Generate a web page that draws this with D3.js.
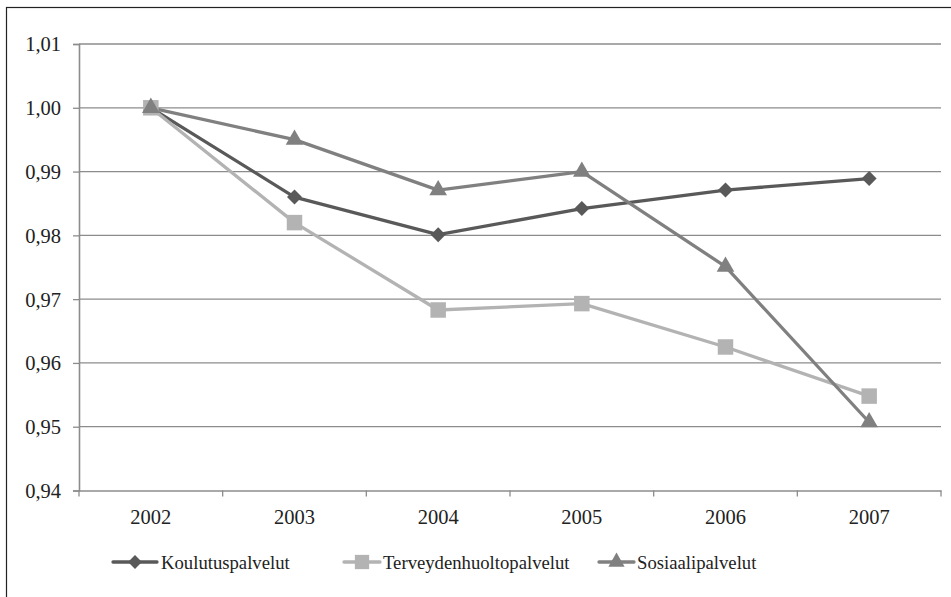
<!DOCTYPE html>
<html><head><meta charset="utf-8">
<script src="https://cdn.jsdelivr.net/npm/d3@7"></script>
<style>body{margin:0;background:#fff}svg{display:block}</style>
</head><body>
<svg id="c" width="951" height="597" font-family="Liberation Serif, serif"></svg>
<script>
const years = ["2002","2003","2004","2005","2006","2007"];
const koulutus = [1.000, 0.986, 0.9801, 0.9842, 0.9871, 0.9889];
const terveys  = [1.000, 0.982, 0.9683, 0.9693, 0.9625, 0.9548];
const sosiaali = [1.000, 0.995, 0.9871, 0.990, 0.9751, 0.9507];
const yTicks = [0.94,0.95,0.96,0.97,0.98,0.99,1.00,1.01];
const seriesNames = ["Koulutuspalvelut","Terveydenhuoltopalvelut","Sosiaalipalvelut"];

(function(){
const diamond = {draw(ctx, size){ const r = Math.sqrt(size/2); ctx.moveTo(0,-r); ctx.lineTo(r,0); ctx.lineTo(0,r); ctx.lineTo(-r,0); ctx.closePath(); }};
const series = [
  {name: seriesNames[0], values: koulutus, color: "#595959", symbol: diamond, size: 112},
  {name: seriesNames[1], values: terveys, color: "#b3b3b3", symbol: d3.symbolSquare, size: 240},
  {name: seriesNames[2], values: sosiaali, color: "#808080", symbol: d3.symbolTriangle, size: 135}
];

const svg = d3.select("#c");
const font = "Liberation Serif, serif";
const mLeft = 79, mRight = 941, mTop = 44, mBottom = 490.5;

svg.append("rect").attr("x",6.5).attr("y",7.5).attr("width",960).attr("height",620)
  .attr("fill","none").attr("stroke","#222").attr("stroke-width",1.2);

const x = d3.scaleBand().domain(years).range([mLeft, mRight]);
const y = d3.scaleLinear().domain([0.94, 1.01]).range([mBottom, mTop]);

svg.append("g").selectAll("line").data(yTicks.slice(1)).join("line")
  .attr("x1", mLeft).attr("x2", mRight)
  .attr("y1", d=>y(d)).attr("y2", d=>y(d))
  .attr("stroke","#8c8c8c").attr("stroke-width",1.3);

const ya = svg.append("g").attr("transform",`translate(${mLeft},0)`)
  .call(d3.axisLeft(y).tickValues(yTicks).tickSize(6).tickPadding(12)
    .tickFormat(d=>d3.format(".2f")(d).replace(".",",")));
ya.attr("font-family", font).attr("font-size", 20.5);
ya.select(".domain").attr("stroke","#8c8c8c").attr("stroke-width",1.6);
ya.selectAll(".tick line").attr("stroke","#8c8c8c").attr("stroke-width",1.3);
ya.selectAll("text").attr("fill","#222").attr("dy","0.34em");

const xa = svg.append("g").attr("transform",`translate(0,${mBottom})`)
  .call(d3.axisBottom(x).tickSize(0));
xa.attr("font-family", font).attr("font-size", 20.5);
xa.select(".domain").attr("stroke","#8c8c8c").attr("stroke-width",1.6);
xa.selectAll("text").attr("fill","#222").attr("y",33.5).attr("dy",0);
const bounds = years.map(d=>x(d)).concat([mRight]);
xa.append("g").selectAll("line").data(bounds).join("line")
  .attr("x1",d=>d).attr("x2",d=>d).attr("y1",0).attr("y2",6)
  .attr("stroke","#8c8c8c").attr("stroke-width",1.3);

const cx = d => x(d) + x.bandwidth()/2;
const line = d3.line().x((d,i)=>cx(years[i])).y(d=>y(d));

series.forEach(s=>{
  svg.append("path").datum(s.values).attr("d", line)
    .attr("fill","none").attr("stroke", s.color).attr("stroke-width",3.3).attr("stroke-linejoin","round");
});
series.forEach(s=>{
  svg.append("g").selectAll("path").data(s.values).join("path")
    .attr("transform",(d,i)=>`translate(${cx(years[i])},${y(d)})`)
    .attr("d", d3.symbol().type(s.symbol).size(s.size))
    .attr("fill", s.color);
});

const legLayout = [[113,157,161],[344,380,383],[599,634,637]];
const legY = 562;
series.forEach((s,i)=>{
  const [a,b,t] = legLayout[i];
  const g = svg.append("g");
  g.append("line").attr("x1",a).attr("x2",b).attr("y1",legY).attr("y2",legY)
    .attr("stroke",s.color).attr("stroke-width",3.3).attr("stroke-linecap","round");
  g.append("path").attr("transform",`translate(${(a+b)/2},${legY})`)
    .attr("d", d3.symbol().type(s.symbol).size(s.size*0.85)).attr("fill",s.color);
  g.append("text").attr("x",t).attr("y",legY+7).text(s.name)
    .attr("font-family",font).attr("font-size",18.7).attr("fill","#222");
});
})();
</script>
</body></html>
